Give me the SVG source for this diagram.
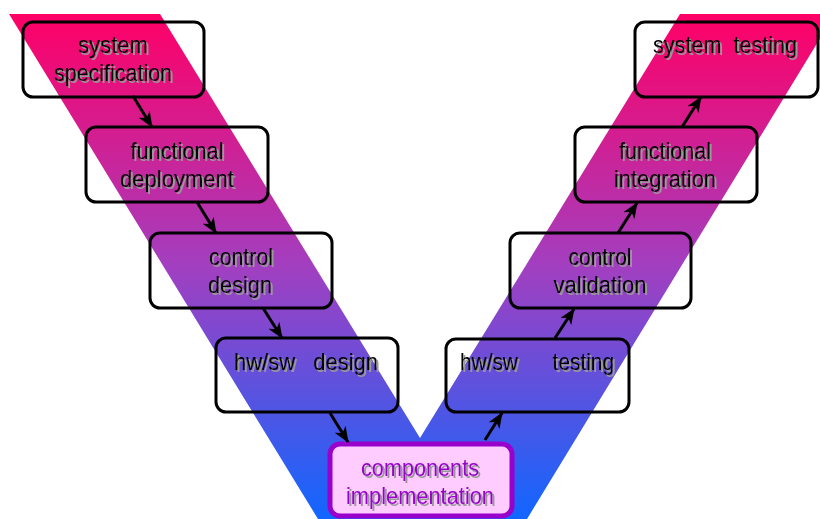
<svg xmlns="http://www.w3.org/2000/svg" width="820" height="519" viewBox="0 0 820 519">
<defs>
<linearGradient id="vg" x1="0" y1="14" x2="0" y2="519" gradientUnits="userSpaceOnUse">
<stop offset="0" stop-color="#ff0066"/>
<stop offset="0.5" stop-color="#a23fc0"/>
<stop offset="1" stop-color="#1166ff"/>
</linearGradient>
<marker id="ah" viewBox="0 0 16 13" refX="15" refY="6.5" markerWidth="16" markerHeight="13" markerUnits="userSpaceOnUse" orient="auto">
<path d="M0,0 L16,6.5 L0,13 L4.5,6.5 z" fill="#000"/>
</marker>
<filter id="sh" x="-10%" y="-10%" width="120%" height="130%">
<feOffset in="SourceAlpha" dx="1.5" dy="1.5" result="o"/>
<feFlood flood-color="#999999"/>
<feComposite in2="o" operator="in" result="s"/>
<feMerge><feMergeNode in="s"/><feMergeNode in="SourceGraphic"/></feMerge>
</filter>
</defs>
<style>
.box{fill:none;stroke:#000;stroke-width:3}
.cbox{fill:#ffccff;stroke:#9900cc;stroke-width:5}
.t{font-family:"Liberation Sans",Arial,sans-serif;font-size:24px;fill:#000;text-anchor:middle;filter:url(#sh)}
.ct{fill:#9900cc}
.con{stroke:#000;stroke-width:3;fill:none;marker-end:url(#ah)}
</style>
<polygon points="9,14 160,14 420,438 680,14 835,14 527,519 318,519" fill="url(#vg)"/>
<g id="n1"><rect class="box" x="23" y="22" width="181" height="75" rx="10"/><text class="t" x="113" y="53" textLength="70" lengthAdjust="spacingAndGlyphs">system</text><text class="t" x="113" y="81" textLength="118" lengthAdjust="spacingAndGlyphs">specification</text></g>
<g id="n2"><rect class="box" x="86" y="127" width="182" height="75" rx="10"/><text class="t" x="177" y="159" textLength="93" lengthAdjust="spacingAndGlyphs">functional</text><text class="t" x="177" y="187" textLength="114" lengthAdjust="spacingAndGlyphs">deployment</text></g>
<g id="n3"><rect class="box" x="150" y="233" width="182" height="75" rx="10"/><text class="t" x="241" y="265" textLength="64" lengthAdjust="spacingAndGlyphs">control</text><text class="t" x="240" y="293" textLength="64" lengthAdjust="spacingAndGlyphs">design</text></g>
<g id="n4"><rect class="box" x="216" y="338" width="182" height="74" rx="10"/><text class="t" x="306" y="370" xml:space="preserve" textLength="144" lengthAdjust="spacingAndGlyphs">hw/sw   design</text></g>
<g id="n5"><rect class="cbox" x="330" y="444" width="182" height="72" rx="10"/><text class="t ct" x="420" y="476" textLength="118" lengthAdjust="spacingAndGlyphs">components</text><text class="t ct" x="420" y="504" textLength="148" lengthAdjust="spacingAndGlyphs">implementation</text></g>
<g id="n6"><rect class="box" x="446" y="339" width="183" height="73" rx="10"/><text class="t" x="537" y="370" xml:space="preserve" textLength="154" lengthAdjust="spacingAndGlyphs">hw/sw      testing</text></g>
<g id="n7"><rect class="box" x="510" y="233" width="181" height="75" rx="10"/><text class="t" x="600" y="265" textLength="63" lengthAdjust="spacingAndGlyphs">control</text><text class="t" x="600" y="293" textLength="93" lengthAdjust="spacingAndGlyphs">validation</text></g>
<g id="n8"><rect class="box" x="575" y="127" width="182" height="75" rx="10"/><text class="t" x="665" y="159" textLength="92" lengthAdjust="spacingAndGlyphs">functional</text><text class="t" x="665" y="187" textLength="102" lengthAdjust="spacingAndGlyphs">integration</text></g>
<g id="n9"><rect class="box" x="635" y="22" width="183" height="75" rx="10"/><text class="t" x="725" y="53" xml:space="preserve" textLength="144" lengthAdjust="spacingAndGlyphs">system  testing</text></g>
<g id="connectors">
<line class="con" x1="133" y1="96" x2="152" y2="127"/>
<line class="con" x1="197" y1="202" x2="216" y2="233"/>
<line class="con" x1="263" y1="308" x2="282" y2="338"/>
<line class="con" x1="330" y1="413" x2="348" y2="442"/>
<line class="con" x1="485" y1="440" x2="502" y2="413"/>
<line class="con" x1="555" y1="338" x2="574" y2="309"/>
<line class="con" x1="618" y1="233" x2="637" y2="203"/>
<line class="con" x1="682" y1="127" x2="701" y2="97"/>
</g>
</svg>
